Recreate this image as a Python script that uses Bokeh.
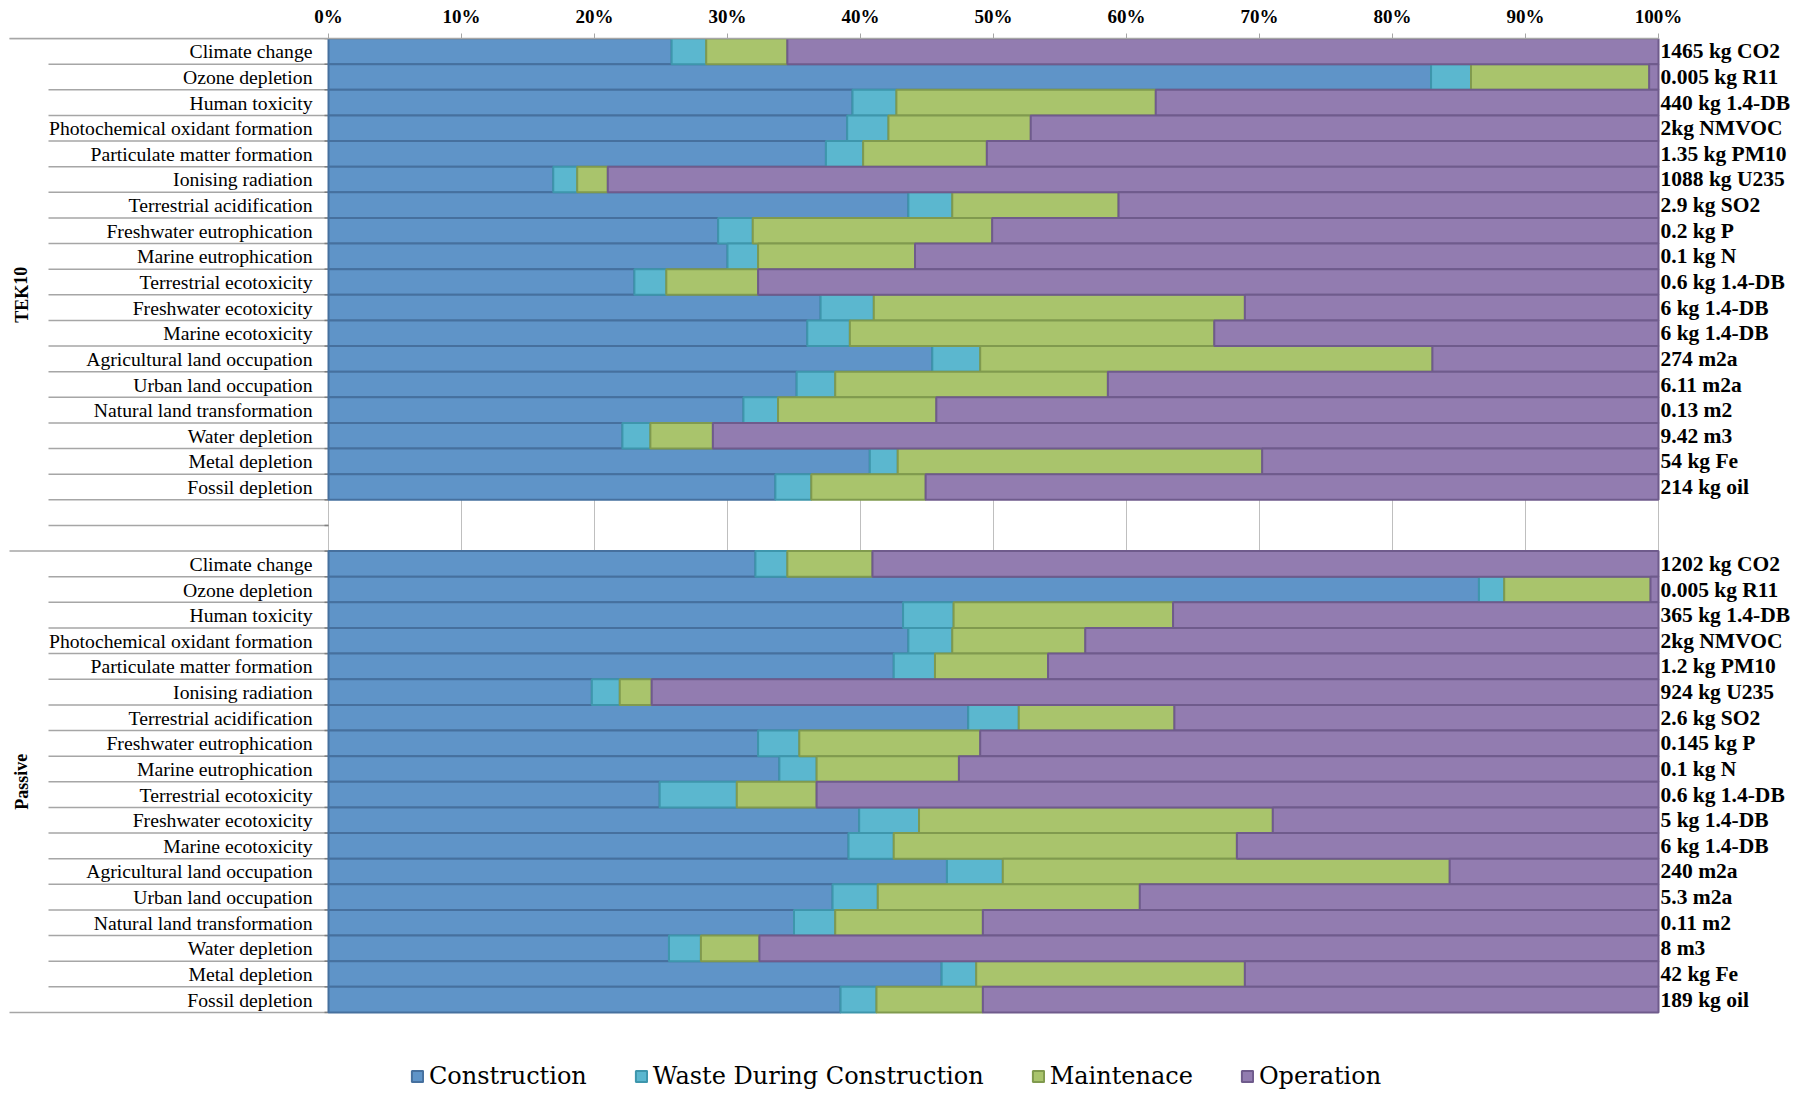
from bokeh.plotting import figure
from bokeh.models import ColumnDataSource, Range1d, FixedTicker, PrintfTickFormatter, Legend, LegendItem
from bokeh.core.properties import value
from bokeh.embed import file_html
from bokeh.resources import INLINE

# ---- data: share of each life-cycle phase in every impact category (%) ----
categories = [
    "Climate change", "Ozone depletion", "Human toxicity",
    "Photochemical oxidant formation", "Particulate matter formation",
    "Ionising radiation", "Terrestrial acidification", "Freshwater eutrophication",
    "Marine eutrophication", "Terrestrial ecotoxicity", "Freshwater ecotoxicity",
    "Marine ecotoxicity", "Agricultural land occupation", "Urban land occupation",
    "Natural land transformation", "Water depletion", "Metal depletion",
    "Fossil depletion",
]
groups = ["TEK10", "Passive"]
phases = ["Construction", "Waste During Construction", "Maintenace", "Operation"]

tek10_construction = [25.8, 82.9, 39.4, 39.0, 37.4, 16.9, 43.6, 29.3, 30.0, 23.0, 37.0, 36.0, 45.4, 35.2, 31.2, 22.1, 40.7, 33.6]
tek10_waste        = [2.6, 3.0, 3.3, 3.1, 2.8, 1.8, 3.3, 2.6, 2.3, 2.4, 4.0, 3.2, 3.6, 2.9, 2.6, 2.1, 2.1, 2.7]
tek10_maintenance  = [6.1, 13.4, 19.5, 10.7, 9.3, 2.3, 12.5, 18.0, 11.8, 6.9, 27.9, 27.4, 34.0, 20.5, 11.9, 4.7, 27.4, 8.6]
tek10_operation    = [65.5, 0.7, 37.8, 47.2, 50.5, 79.0, 40.6, 50.1, 55.9, 67.7, 31.1, 33.4, 17.0, 41.4, 54.3, 71.1, 29.8, 55.1]

passive_construction = [32.1, 86.5, 43.2, 43.6, 42.5, 19.8, 48.1, 32.3, 33.9, 24.9, 39.9, 39.1, 46.5, 37.9, 35.0, 25.6, 46.1, 38.5]
passive_waste        = [2.4, 1.9, 3.8, 3.3, 3.1, 2.1, 3.8, 3.1, 2.8, 5.8, 4.5, 3.4, 4.2, 3.4, 3.1, 2.4, 2.6, 2.7]
passive_maintenance  = [6.4, 11.0, 16.5, 10.0, 8.5, 2.4, 11.7, 13.6, 10.7, 6.0, 26.6, 25.8, 33.6, 19.7, 11.1, 4.4, 20.2, 8.0]
passive_operation    = [59.1, 0.6, 36.5, 43.1, 45.9, 75.7, 36.4, 51.0, 52.6, 63.3, 29.0, 31.7, 15.7, 39.0, 50.8, 67.6, 31.1, 50.8]

tek10_totals = ["1465 kg CO2", "0.005 kg R11", "440 kg 1.4-DB", "2kg NMVOC", "1.35 kg PM10",
                "1088 kg U235", "2.9 kg SO2", "0.2 kg P", "0.1 kg N", "0.6 kg 1.4-DB",
                "6 kg 1.4-DB", "6 kg 1.4-DB", "274 m2a", "6.11 m2a", "0.13 m2", "9.42 m3",
                "54 kg Fe", "214 kg oil"]
passive_totals = ["1202 kg CO2", "0.005 kg R11", "365 kg 1.4-DB", "2kg NMVOC", "1.2 kg PM10",
                  "924 kg U235", "2.6 kg SO2", "0.145 kg P", "0.1 kg N", "0.6 kg 1.4-DB",
                  "5 kg 1.4-DB", "6 kg 1.4-DB", "240 m2a", "5.3 m2a", "0.11 m2", "8 m3",
                  "42 kg Fe", "189 kg oil"]

x_ticks = list(range(0, 101, 10))

# ---- styling ----
fill_colors = ["#5F94C8", "#5BB7CF", "#A9C46C", "#927CB0"]
line_colors = ["#46709E", "#3E96AC", "#809A4E", "#6F5B8C"]
SERIF = "Liberation Serif"

# ---- layout (pixels) ----
W, H = 1807, 1094
ZERO_PX, FULL_PX = 328, 1658      # where 0 % and 100 % fall
TOP_PX, ROW_PX = 38, 25.63
GAP_ROWS = 2
ppu = (FULL_PX - ZERO_PX) / 100.0


def px_to_x(px):
    return (px - ZERO_PX) / ppu


n = len(categories)
total_rows = 2 * n + GAP_ROWS
y_tek = [i + 0.5 for i in range(n)]
y_pas = [n + GAP_ROWS + i + 0.5 for i in range(n)]

p = figure(width=W, height=H,
           x_range=Range1d(px_to_x(0), px_to_x(W)),
           y_range=Range1d((H - TOP_PX) / ROW_PX, 0),
           x_axis_location="above", y_axis_location=None,
           output_backend="svg", toolbar_location=None,
           min_border_left=0, min_border_right=0,
           min_border_top=TOP_PX, min_border_bottom=0)
p.outline_line_color = None
p.grid.visible = False
p.background_fill_color = "white"
p.border_fill_color = "white"

# top percentage axis
ax = p.xaxis[0]
ax.ticker = FixedTicker(ticks=x_ticks)
ax.formatter = PrintfTickFormatter(format="%d%%")
ax.bounds = (px_to_x(9), 100)
ax.axis_line_color = "#A6A6A6"
ax.axis_line_width = 1.5
ax.major_tick_line_color = "#A6A6A6"
ax.major_tick_out = 5
ax.major_tick_in = 0
ax.minor_tick_line_color = None
ax.major_label_standoff = 7
ax.major_label_text_font = SERIF
ax.major_label_text_font_style = "bold"
ax.major_label_text_font_size = "19px"
ax.major_label_text_color = "#000000"

# vertical gridlines, visible in the empty rows between the two groups
p.segment(x0=x_ticks, x1=x_ticks, y0=[n] * len(x_ticks), y1=[n + GAP_ROWS] * len(x_ticks),
          line_color="#BFBFBF", line_width=1)

# row separator lines in the label column
bounds = list(range(total_rows + 1))
group_edges = {0, n + GAP_ROWS, total_rows}
sep_x0 = [px_to_x(9) if b in group_edges else px_to_x(48) for b in bounds]
p.segment(x0=sep_x0, x1=[0] * len(bounds), y0=bounds, y1=bounds,
          line_color="#A6A6A6", line_width=1.5)
p.segment(x0=[px_to_x(ZERO_PX - 4)] * len(bounds), x1=[0] * len(bounds), y0=bounds, y1=bounds,
          line_color="#808080", line_width=1.5)

# stacked bars
source = ColumnDataSource(data={
    "y": y_tek + y_pas,
    phases[0]: tek10_construction + passive_construction,
    phases[1]: tek10_waste + passive_waste,
    phases[2]: tek10_maintenance + passive_maintenance,
    phases[3]: tek10_operation + passive_operation,
})
bars = p.hbar_stack(phases, y="y", height=1.0, source=source,
                    fill_color=fill_colors, line_color=line_colors, line_width=2)

# category labels
p.text(x=[px_to_x(312)] * (2 * n), y=y_tek + y_pas, text=categories + categories,
       text_align="right", text_baseline="middle",
       text_font=value(SERIF), text_font_size="19.7px", text_color="#000000")

# group labels
p.text(x=[px_to_x(21)] * 2, y=[(n + GAP_ROWS) / 2.0, n + GAP_ROWS + n / 2.0], text=groups,
       angle=1.5708, text_align="center", text_baseline="middle",
       text_font=value(SERIF), text_font_style="bold", text_font_size="18px",
       text_color="#000000")

# totals at the end of each bar
p.text(x=[px_to_x(1660)] * (2 * n), y=y_tek + y_pas, text=tek10_totals + passive_totals,
       text_align="left", text_baseline="middle",
       text_font=value(SERIF), text_font_style="bold", text_font_size="21.5px",
       text_color="#000000")

legend = Legend(items=[LegendItem(label=ph, renderers=[r]) for ph, r in zip(phases, bars)],
                orientation="horizontal", location=(410, 4),
                glyph_width=14, glyph_height=14, label_standoff=5, spacing=47,
                padding=0, margin=0, border_line_color=None, background_fill_alpha=0,
                label_text_font="DejaVu Serif", label_text_font_size="24px",
                label_text_color="#000000")
p.add_layout(legend)

open("out.html", "w").write(file_html(p, INLINE))
